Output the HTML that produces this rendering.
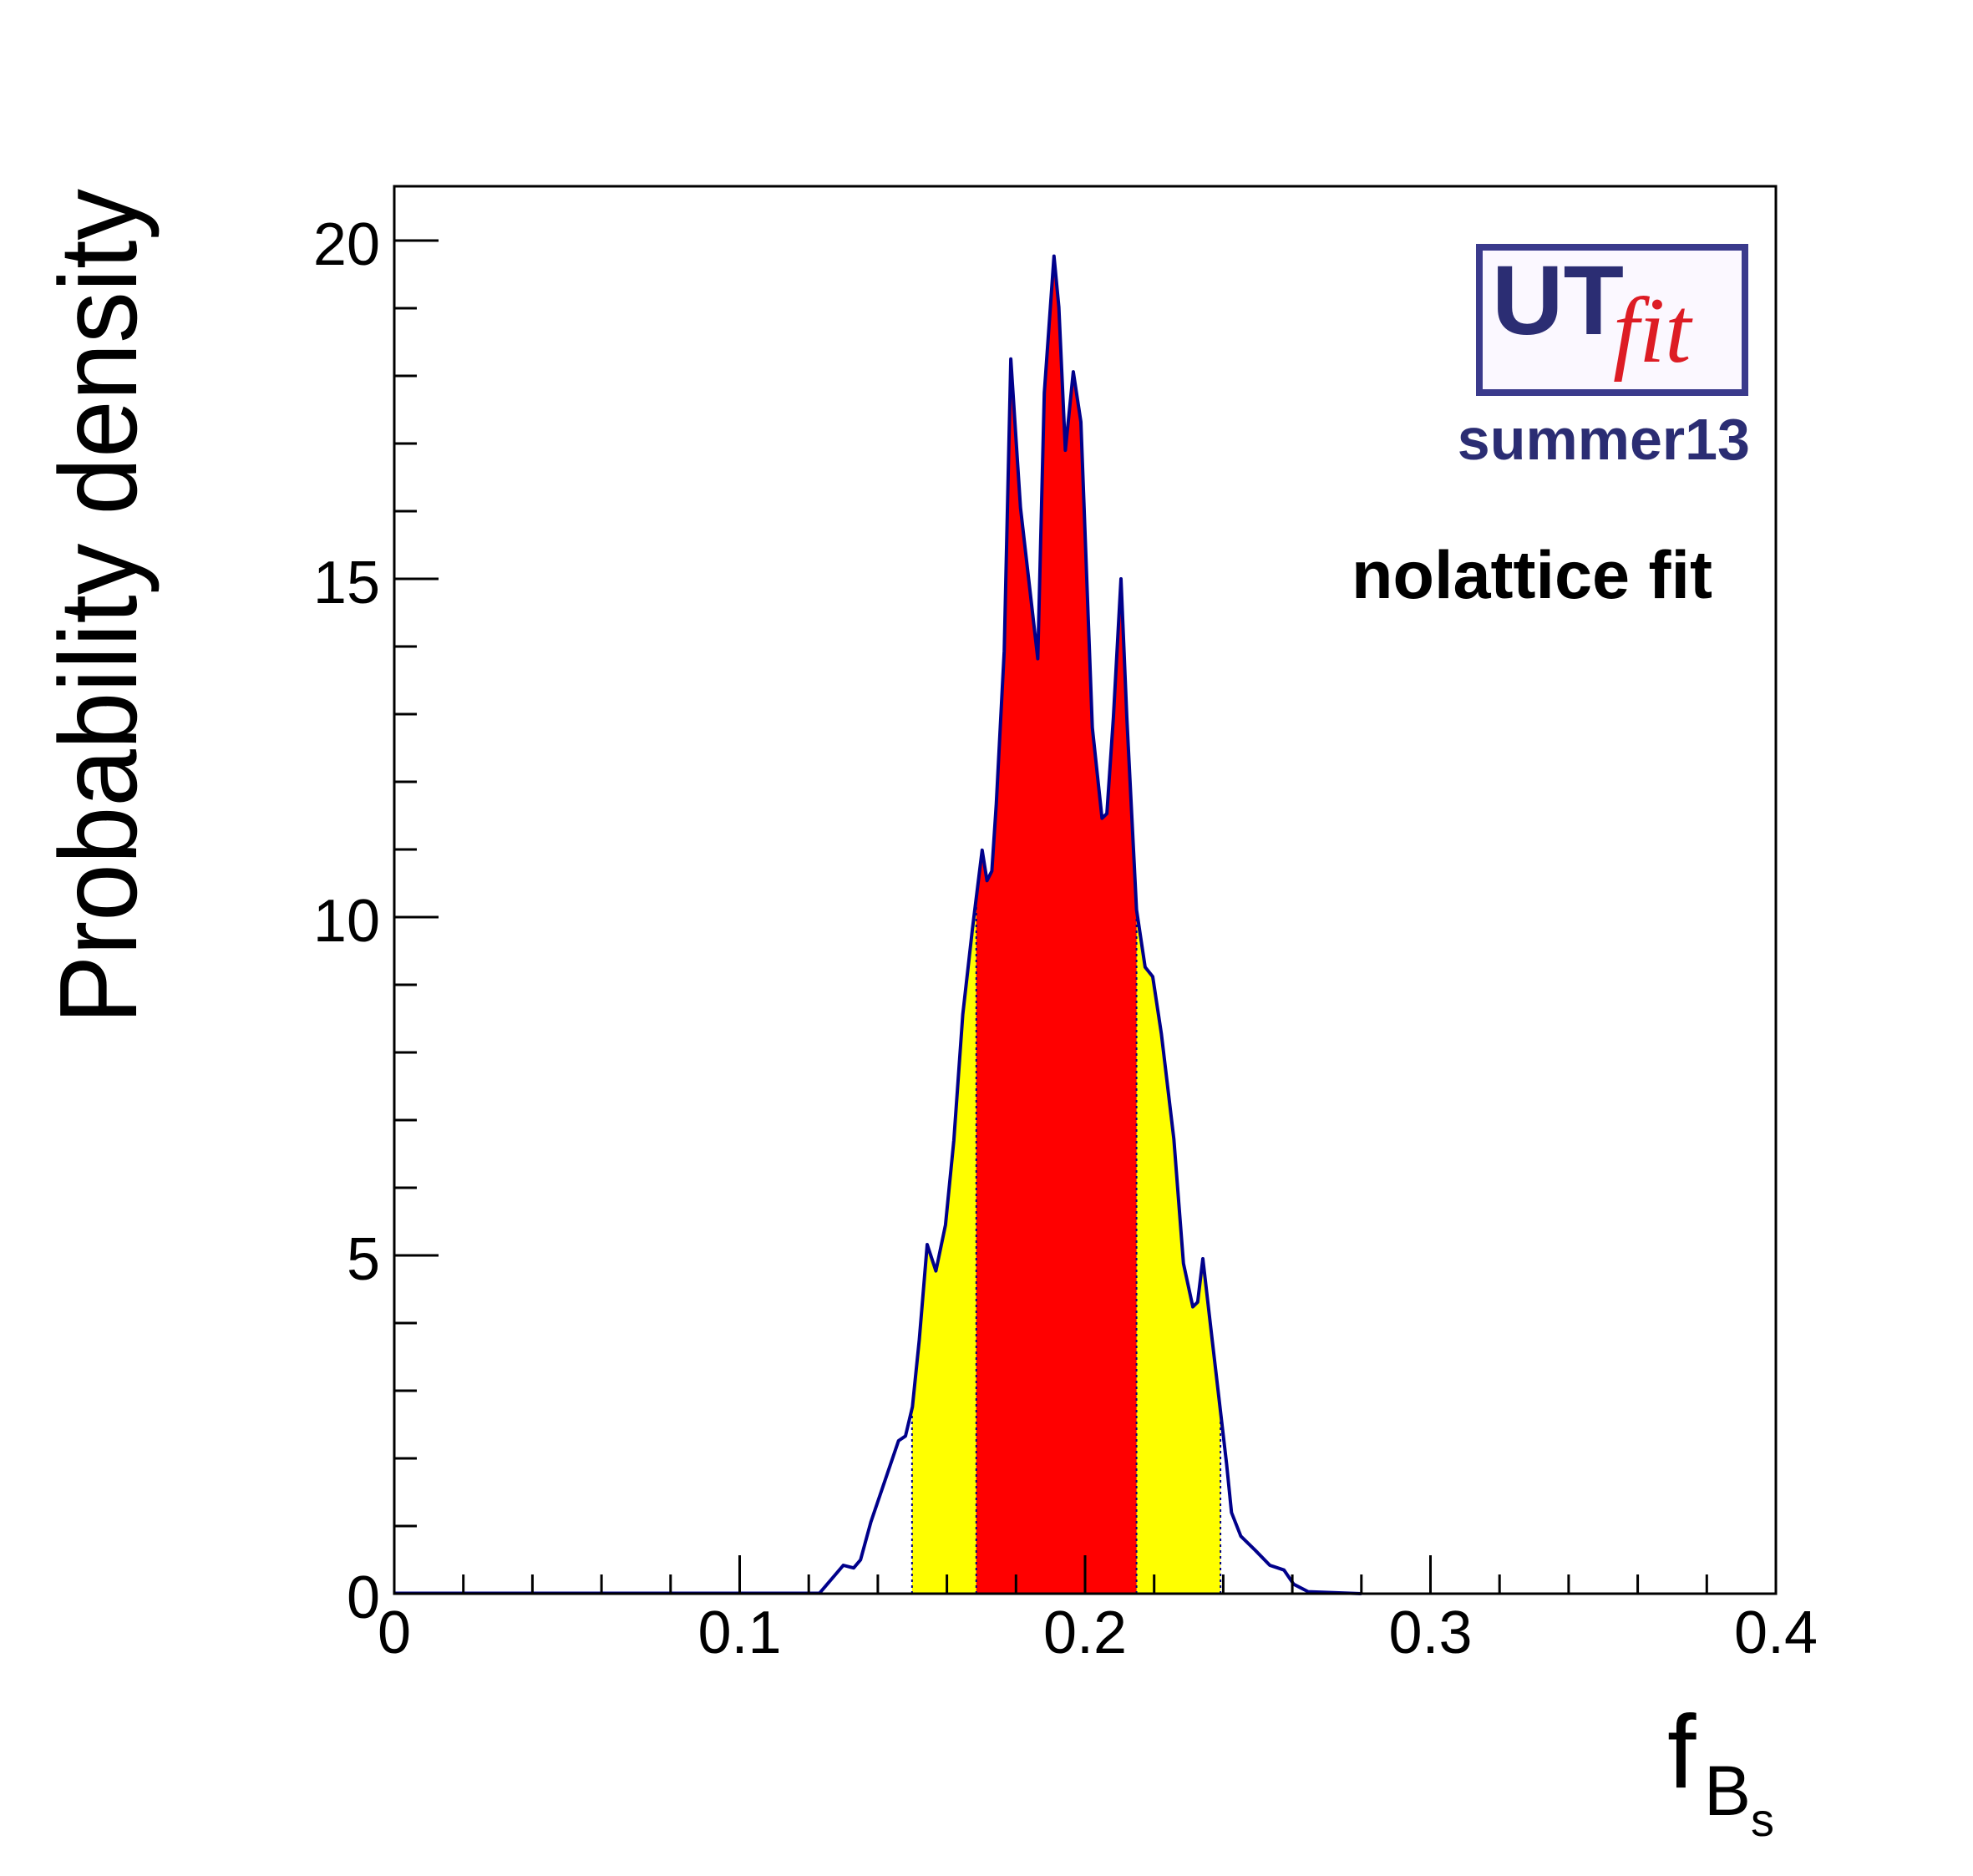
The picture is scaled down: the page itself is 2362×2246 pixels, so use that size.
<!DOCTYPE html>
<html><head><meta charset="utf-8"><style>
html,body{margin:0;padding:0;background:#fff;}
svg{display:block;font-family:"Liberation Sans",sans-serif;}
</style></head><body>
<svg id="chart" width="2362" height="2246" viewBox="0 0 2362 2246" xmlns="http://www.w3.org/2000/svg">
<rect width="2362" height="2246" fill="#fff"/>
<defs>
<clipPath id="clipY"><rect id="clipYr" x="0" y="0" width="0" height="2246"/></clipPath>
<clipPath id="clipR"><rect id="clipRr" x="0" y="0" width="0" height="2246"/></clipPath>
</defs>
<g id="fills"></g>
<g id="marks"></g>
<rect x="472" y="223" width="1654" height="1685" fill="none" stroke="#000" stroke-width="3"/>
<g id="axes"></g>
<text transform="translate(163,1226) rotate(-90)" font-size="132" textLength="1000" lengthAdjust="spacingAndGlyphs">Probability density</text>
<g>
<text x="1996" y="2140" font-size="124">f</text>
<text x="2040" y="2173" font-size="84">B</text>
<text x="2096" y="2198" font-size="56">s</text>
</g>
<g>
<rect x="1771" y="296" width="318" height="174" fill="#fbf8ff" stroke="#3a3a8c" stroke-width="8"/>
<text x="1786" y="400" font-size="118" font-weight="bold" fill="#2b2d73" textLength="158" lengthAdjust="spacingAndGlyphs">UT</text>
<text x="1931" y="433" font-size="112" font-style="italic" font-family="Liberation Serif,serif" fill="#dd1c24">fit</text>
</g>
<text x="2095" y="550" font-size="70" font-weight="bold" fill="#2b2d73" text-anchor="end">summer13</text>
<text x="2050" y="716" font-size="81" font-weight="bold" fill="#000" text-anchor="end">nolattice fit</text>
</svg>
<script>
const xs = [0.123,0.130,0.133,0.135,0.138,0.146,0.148,0.150,0.152,0.1543,0.1568,0.1596,0.162,0.1646,0.1674,0.1702,0.1716,0.173,0.1743,0.1766,0.1785,0.1813,0.1863,0.1882,0.191,0.1924,0.1943,0.1966,0.1988,0.2021,0.2049,0.2063,0.2082,0.2104,0.2121,0.2149,0.2174,0.2196,0.2221,0.2257,0.2285,0.2312,0.2326,0.2341,0.2368,0.241,0.2424,0.2451,0.2493,0.2535,0.2576,0.2604,0.2646,0.28];
const ys = [0,0.42,0.38,0.5,1.06,2.26,2.33,2.76,3.75,5.16,4.77,5.45,6.7,8.56,9.83,10.99,10.54,10.68,11.67,13.93,18.25,16.05,13.82,17.75,19.77,19.02,16.9,18.06,17.32,12.8,11.46,11.53,12.95,15.0,12.95,10.11,9.26,9.12,8.27,6.72,4.88,4.24,4.31,4.95,3.75,1.91,1.2,0.85,0.64,0.42,0.35,0.14,0.03,0];
const band95 = [0.1499,0.2392];
const band68 = [0.1685,0.2149];
const xTicks = [0,0.1,0.2,0.3,0.4];
const xTickLabels = ["0","0.1","0.2","0.3","0.4"];
const yTicks = [0,5,10,15,20];
const yTickLabels = ["0","5","10","15","20"];

const NS='http://www.w3.org/2000/svg';
const X0=472,X1=2126,Y0=1908,YT=223,XMAX=0.4,YMAX=(1908-223)/81.0;
const sx=v=>X0+v/XMAX*(X1-X0);
const sy=v=>Y0-v/YMAX*(Y0-YT);
function mk(tag,attrs,parent){const e=document.createElementNS(NS,tag);for(const k in attrs)e.setAttribute(k,attrs[k]);parent.appendChild(e);return e;}
function interp(x){for(let i=0;i<xs.length-1;i++){if(x>=xs[i]&&x<=xs[i+1]){return ys[i]+(ys[i+1]-ys[i])*(x-xs[i])/(xs[i+1]-xs[i]);}}return 0;}
let pts=xs.map((x,i)=>sx(x).toFixed(1)+','+sy(ys[i]).toFixed(1)).join(' ');
let areaPts=sx(xs[0])+','+sy(0)+' '+pts+' '+sx(xs[xs.length-1])+','+sy(0);
document.getElementById('clipYr').setAttribute('x',sx(band95[0]));
document.getElementById('clipYr').setAttribute('width',sx(band95[1])-sx(band95[0]));
document.getElementById('clipRr').setAttribute('x',sx(band68[0]));
document.getElementById('clipRr').setAttribute('width',sx(band68[1])-sx(band68[0]));
const fills=document.getElementById('fills');
const y95=mk('polygon',{points:areaPts,fill:'#ffff00','clip-path':'url(#clipY)'},fills);


const r68=mk('polygon',{points:areaPts,fill:'#ff0000','clip-path':'url(#clipR)'},fills);


const marks=document.getElementById('marks');
[band95[0],band68[0],band68[1],band95[1]].forEach(b=>{
  const l=mk('line',{x1:sx(b),x2:sx(b),y1:sy(0),y2:sy(interp(b)),stroke:'#000080','stroke-width':2,'stroke-dasharray':'3,4'},marks);
  
  
});
const curve=mk('polyline',{points:pts,fill:'none',stroke:'#00008b','stroke-width':4,'stroke-linejoin':'round'},marks);


const base=mk('line',{x1:X0,x2:sx(xs[0]),y1:Y0-1,y2:Y0-1,stroke:'#00008b','stroke-width':3},marks);


const axes=document.getElementById('axes');
for(let i=0;i<=20;i++){const v=i*0.02;const major=i%5===0;
  const t=mk('line',{x1:sx(v),x2:sx(v),y1:Y0,y2:Y0-(major?46:23),stroke:'#000','stroke-width':3},axes);
  
  }
for(let i=0;i<=20;i++){const major=i%5===0;
  const t=mk('line',{x1:X0,x2:X0+(major?53:27),y1:sy(i),y2:sy(i),stroke:'#000','stroke-width':3},axes);
  
  }
xTicks.forEach((v,i)=>{const t=mk('text',{x:sx(v),y:1979,'font-size':72,'text-anchor':'middle'},axes);t.textContent=xTickLabels[i];
  
  });
yTicks.forEach((v,i)=>{const t=mk('text',{x:455,y:sy(v)+29,'font-size':72,'text-anchor':'end'},axes);t.textContent=yTickLabels[i];
  
  });
</script>
</body></html>
